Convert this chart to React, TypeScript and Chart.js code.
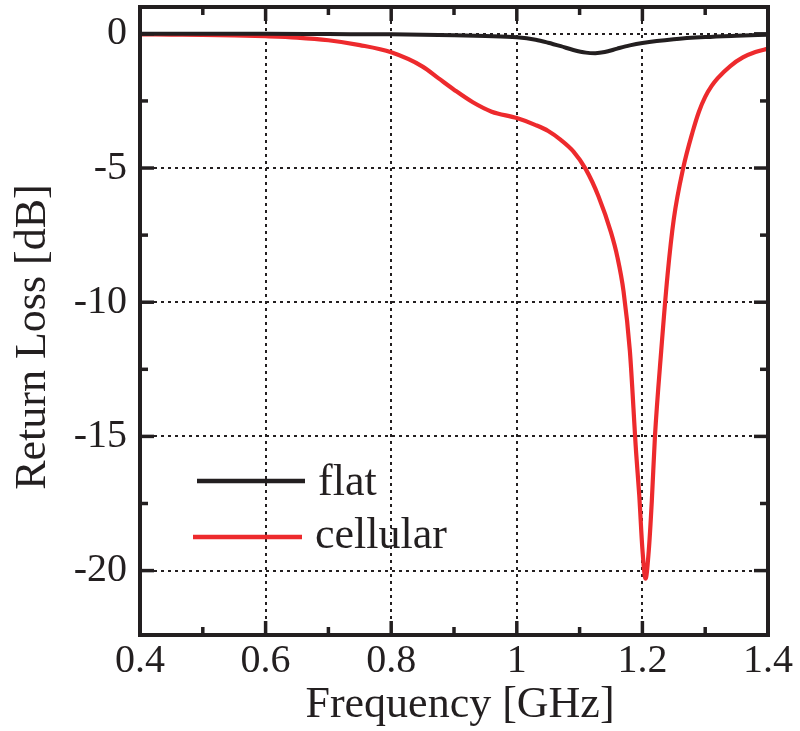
import React, { useEffect, useRef } from 'react';
import { Chart, registerables } from 'chart.js';

Chart.register(...registerables);

// ---- data ----
const freqFlat = [0.4, 0.5, 0.6, 0.7, 0.8, 0.85, 0.9, 0.95, 1.0, 1.03, 1.05, 1.07, 1.09, 1.11, 1.125, 1.14, 1.16, 1.18, 1.2, 1.25, 1.3, 1.35, 1.4];
const flat = [0, 0, 0, -0.01, -0.02, -0.03, -0.05, -0.08, -0.13, -0.22, -0.33, -0.46, -0.6, -0.7, -0.72, -0.68, -0.55, -0.43, -0.34, -0.2, -0.12, -0.07, -0.03];

const freqCell = [0.4, 0.45, 0.5, 0.55, 0.6, 0.65, 0.7, 0.75, 0.8, 0.85, 0.875, 0.9, 0.93, 0.96, 1.0, 1.03, 1.05, 1.07, 1.09, 1.11, 1.13, 1.15, 1.16, 1.17, 1.18, 1.19, 1.195, 1.2, 1.205, 1.21, 1.215, 1.22, 1.23, 1.24, 1.25, 1.265, 1.28, 1.29, 1.3, 1.31, 1.32, 1.34, 1.36, 1.38, 1.4];
const cellular = [-0.02, -0.03, -0.04, -0.06, -0.09, -0.14, -0.24, -0.42, -0.69, -1.22, -1.65, -2.08, -2.55, -2.9, -3.14, -3.4, -3.62, -3.95, -4.38, -5.05, -6.05, -7.4, -8.3, -9.6, -11.8, -15.6, -17.2, -19.2, -20.3, -19.3, -17.4, -15.0, -11.8, -9.0, -6.9, -5.0, -3.65, -2.9, -2.35, -1.95, -1.65, -1.2, -0.88, -0.68, -0.55];

const seriesLabels = ['flat', 'cellular'];
const seriesColors = ['#231F20', '#ED2A2D'];

const xMajor = [0.4, 0.6, 0.8, 1, 1.2, 1.4];
const xMinor = [0.5, 0.7, 0.9, 1.1, 1.3];
const yMajor = [0, -5, -10, -15, -20];
const yMinor = [-2.5, -7.5, -12.5, -17.5];
const xRange = [0.4, 1.4];
const yRange = [-22.4, 1];

const xTitle = 'Frequency [GHz]';
const yTitle = 'Return Loss [dB]';

const INK = '#231F20';
const FONT = "'Liberation Serif', 'Times New Roman', serif";

const decorPlugin = {
  id: 'decor',
  beforeDatasetsDraw(chart: any) {
    const { ctx, chartArea, scales } = chart;
    const { left, right, top, bottom } = chartArea;
    const x = scales.x;
    const y = scales.y;
    ctx.save();
    ctx.strokeStyle = INK;
    ctx.lineWidth = 2;
    ctx.setLineDash([3, 4]);
    for (const v of xMajor) {
      if (v <= xRange[0] || v >= xRange[1]) continue;
      const px = Math.round(x.getPixelForValue(v));
      ctx.beginPath();
      ctx.moveTo(px, top);
      ctx.lineTo(px, bottom);
      ctx.stroke();
    }
    for (const v of yMajor) {
      const py = Math.round(y.getPixelForValue(v));
      ctx.beginPath();
      ctx.moveTo(left, py);
      ctx.lineTo(right, py);
      ctx.stroke();
    }
    ctx.restore();
  },
  afterDatasetsDraw(chart: any) {
    const { ctx, chartArea, scales } = chart;
    const { left, right, top, bottom } = chartArea;
    const x = scales.x;
    const y = scales.y;
    ctx.save();
    ctx.strokeStyle = INK;
    ctx.lineWidth = 4;
    ctx.setLineDash([]);
    ctx.lineCap = 'butt';
    // frame
    ctx.strokeRect(left, top, right - left, bottom - top);
    ctx.lineWidth = 3.5;
    const tick = (x1: number, y1: number, x2: number, y2: number) => {
      ctx.beginPath();
      ctx.moveTo(x1, y1);
      ctx.lineTo(x2, y2);
      ctx.stroke();
    };
    const MAJ = 14;
    const MIN = 8;
    for (const v of xMajor) {
      const px = x.getPixelForValue(v);
      tick(px, bottom, px, bottom - MAJ);
      tick(px, top, px, top + MAJ);
    }
    for (const v of xMinor) {
      const px = x.getPixelForValue(v);
      tick(px, bottom, px, bottom - MIN);
      tick(px, top, px, top + MIN);
    }
    for (const v of yMajor) {
      const py = y.getPixelForValue(v);
      tick(left, py, left + MAJ, py);
      tick(right, py, right - MAJ, py);
    }
    for (const v of yMinor) {
      const py = y.getPixelForValue(v);
      tick(left, py, left + MIN, py);
      tick(right, py, right - MIN, py);
    }

    // axis titles
    ctx.fillStyle = INK;
    ctx.font = `44px ${FONT}`;
    ctx.textAlign = 'center';
    ctx.textBaseline = 'alphabetic';
    ctx.fillText(xTitle, (left + right) / 2 + 6, bottom + 82);
    ctx.save();
    ctx.translate(45, (top + bottom) / 2 + 16);
    ctx.rotate(-Math.PI / 2);
    ctx.fillText(yTitle, 0, 0);
    ctx.restore();

    // legend
    ctx.textAlign = 'left';
    const legendRows = [
      { x1: left + 57, x2: left + 165, ly: top + 474, tx: left + 178, ty: top + 488 },
      { x1: left + 53, x2: left + 162, ly: top + 530, tx: left + 175, ty: top + 541 },
    ];
    chart.data.datasets.forEach((ds: any, i: number) => {
      const r = legendRows[i];
      ctx.strokeStyle = ds.borderColor;
      ctx.lineWidth = 4.5;
      tick(r.x1, r.ly, r.x2, r.ly);
      ctx.fillStyle = INK;
      ctx.fillText(ds.label, r.tx, r.ty);
    });
    ctx.restore();
  },
};

export default function App() {
  const ref = useRef<HTMLCanvasElement | null>(null);
  useEffect(() => {
    if (!ref.current) return;
    const chart = new Chart(ref.current, {
      type: 'line',
      data: {
        datasets: [
          {
            label: seriesLabels[0],
            data: freqFlat.map((f, i) => ({ x: f, y: flat[i] })),
            borderColor: seriesColors[0],
            borderWidth: 4,
            pointRadius: 0,
            cubicInterpolationMode: 'monotone',
            fill: false,
          },
          {
            label: seriesLabels[1],
            data: freqCell.map((f, i) => ({ x: f, y: cellular[i] })),
            borderColor: seriesColors[1],
            borderWidth: 4.2,
            pointRadius: 0,
            cubicInterpolationMode: 'monotone',
            fill: false,
          },
        ],
      },
      options: {
        responsive: false,
        animation: false,
        layout: { padding: { top: 7, right: 32, left: 0, bottom: 0 } },
        plugins: { legend: { display: false }, tooltip: { enabled: false } },
        scales: {
          x: {
            type: 'linear',
            min: xRange[0],
            max: xRange[1],
            grid: { display: false, drawTicks: false },
            border: { display: false },
            afterBuildTicks: (s: any) => {
              s.ticks = xMajor.map((v) => ({ value: v }));
            },
            afterFit: (s: any) => {
              s.height = 96;
              s.paddingLeft = 0;
              s.paddingRight = 0;
            },
            ticks: {
              autoSkip: false,
              maxRotation: 0,
              minRotation: 0,
              padding: 2,
              color: INK,
              font: { family: FONT, size: 40 },
              callback: (v: any) => String(v),
            },
          },
          y: {
            type: 'linear',
            min: yRange[0],
            max: yRange[1],
            grid: { display: false, drawTicks: false },
            border: { display: false },
            afterBuildTicks: (s: any) => {
              s.ticks = yMajor.map((v) => ({ value: v }));
            },
            afterFit: (s: any) => {
              s.width = 140;
              s.paddingTop = 0;
              s.paddingBottom = 0;
            },
            ticks: {
              padding: 13,
              color: INK,
              font: { family: FONT, size: 40 },
              callback: (v: any) => String(v),
            },
          },
        },
      },
      plugins: [decorPlugin],
    } as any);
    return () => chart.destroy();
  }, []);
  return (
    <div style={{ position: 'fixed', left: 0, top: 0, width: 800, height: 731, background: '#fff' }}>
      <canvas ref={ref} width={800} height={731} style={{ width: 800, height: 731, display: 'block' }} />
    </div>
  );
}
